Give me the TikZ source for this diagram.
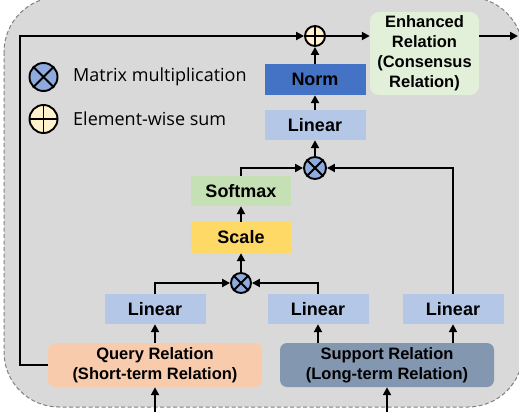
\documentclass[tikz,border=0pt]{standalone}
\usepackage{fontspec}
\setmainfont{Liberation Sans}
\newfontfamily\legendfont{Open Sans}
\usetikzlibrary{arrows.meta,positioning,calc}
\definecolor{panelgray}{HTML}{D9D9D9}
\definecolor{panelline}{HTML}{808080}
\definecolor{linearblue}{HTML}{B4C7E7}
\definecolor{normblue}{HTML}{4472C4}
\definecolor{scaleyellow}{HTML}{FFD966}
\definecolor{softgreen}{HTML}{C5E0B4}
\definecolor{enhgreen}{HTML}{E2F0D9}
\definecolor{querypeach}{HTML}{F8CBAD}
\definecolor{supportslate}{HTML}{8497B0}
\definecolor{mulblue}{HTML}{8FAADC}
\definecolor{sumcream}{HTML}{FFF2CC}
\tikzset{
    opbox/.style={
        minimum width=101pt,
        minimum height=30pt,
        inner sep=0pt,
        font=\bfseries\fontsize{18}{20}\selectfont
    },
    relbox/.style={
        rounded corners=7pt,
        minimum width=214pt,
        minimum height=44pt,
        inner sep=0pt,
        align=center,
        font=\bfseries\fontsize{16.5}{20}\selectfont
    },
    opcircle/.style={
        circle,
        draw,
        line width=1.9pt,
        minimum size=20pt,
        inner sep=0pt
    },
    legendtext/.style={
        anchor=west,
        inner sep=0pt,
        font=\legendfont\fontsize{18}{20}\selectfont
    },
    flow/.style={
        line width=2pt,
        -{Triangle[length=8pt,width=8pt]}
    }
}
\begin{document}
\begin{tikzpicture}[x=1pt,y=-1pt]
                \useasboundingbox (0,0) rectangle (519,412);
                \draw [fill=panelgray, draw=panelline, line width=1pt, dash pattern=on 4pt off 2.5pt, rounded corners=55pt]
                    (4,-3) rectangle (523,407);
                \coordinate (Qin) at (155,412);
                \coordinate (Sin) at (387,412);
                \coordinate (Out) at (518,36);
                \node [relbox, fill=querypeach] (query) at (155,365) {Query Relation\\(Short-term Relation)};
                \node [relbox, fill=supportslate] (support) at (387,365) {Support Relation\\(Long-term Relation)};
                \node [opbox, fill=linearblue] (lin1) at (155,309) {Linear};
                \node [opbox, fill=linearblue] (lin2) at (318,309) {Linear};
                \node [opbox, fill=linearblue] (lin3) at (453,309) {Linear};
                \node [opcircle, fill=mulblue] (mul1) at (241,283) {};
                \node [opbox, fill=scaleyellow, minimum width=100pt, minimum height=31pt] (scale) at (241,237.5) {Scale};
                \node [opbox, fill=softgreen, minimum width=100pt] (softmax) at (241,191) {Softmax};
                \node [opcircle, fill=mulblue, minimum size=22pt] (mul2) at (315,168) {};
                \node [opbox, fill=linearblue] (lin4) at (315,125) {Linear};
                \node [opbox, fill=normblue, minimum height=31pt] (norm) at (315,79.5) {Norm};
                \node [opcircle, fill=sumcream] (sum) at (315,36) {};
                \node [relbox, fill=enhgreen, minimum width=109pt, minimum height=83pt, rounded corners=9pt] (enh) at (424.5,53.5)
                    {Enhanced\\Relation\\(Consensus\\Relation)};
                \node [opcircle, fill=mulblue, minimum size=28pt] (legmul) at (43.5,77) {};
                \node [opcircle, fill=sumcream, minimum size=28pt] (legsum) at (43.5,119) {};
                \node [legendtext] (legmultext) at (73,77) {Matrix multiplication};
                \node [legendtext] (legsumtext) at (73,119) {Element-wise sum};
                \foreach \c in {mul1,mul2,legmul}
                    \draw [line width=1.9pt] (\c.45) -- (\c.225) (\c.135) -- (\c.315);
                \foreach \c in {sum,legsum}
                    \draw [line width=1.9pt] (\c.north) -- (\c.south) (\c.east) -- (\c.west);
                \draw [flow] (Qin) -- (query.south);
                \draw [flow] (Sin) -- (support.south);
                \draw [flow] (query.north) -- (lin1.south);
                \draw [flow] (support.north -| lin2) -- (lin2.south);
                \draw [flow] (support.north -| lin3) -- (lin3.south);
                \draw [flow] (lin1.north) |- (mul1.west);
                \draw [flow] (lin2.north) |- (mul1.east);
                \draw [flow] (mul1.north) -- (scale.south);
                \draw [flow] (scale.north) -- (softmax.south);
                \draw [flow] (softmax.north) |- (mul2.west);
                \draw [flow] (lin3.north) |- (mul2.east);
                \draw [flow] (mul2.north) -- (lin4.south);
                \draw [flow] (lin4.north) -- (norm.south);
                \draw [flow] (norm.north) -- (sum.south);
                \draw [flow] (query.west) -- ++(-28,0) |- (sum.west);
                \draw [flow] (sum.east) -- (sum -| enh.west);
                \draw [flow] (sum -| enh.east) -- (Out);
            \end{tikzpicture}
\end{document}
